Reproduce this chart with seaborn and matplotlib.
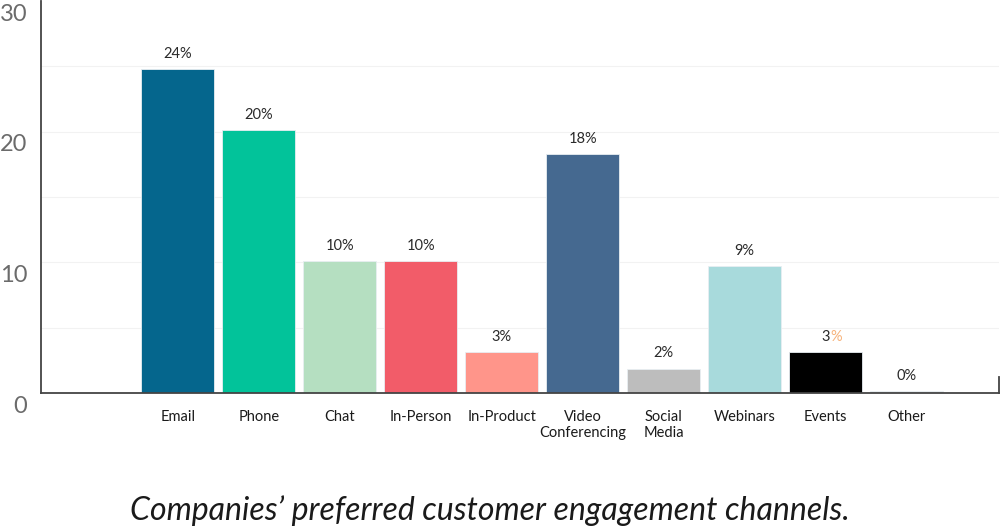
import pandas as pd
import seaborn as sns
import matplotlib.pyplot as plt
from matplotlib.transforms import ScaledTranslation

channels = ['Email', 'Phone', 'Chat', 'In-Person', 'In-Product', 'Video\nConferencing',
            'Social\nMedia', 'Webinars', 'Events', 'Other']
shares = [24.8, 20.1, 10.1, 10.1, 3.1, 18.3, 1.85, 9.7, 3.1, 0.15]
pct_labels = ['24%', '20%', '10%', '10%', '3%', '18%', '2%', '9%', '3', '0%']
colors = ['#05668d', '#02c39a', '#b5dfc1', '#f25c69', '#ff958a', '#456990',
          '#bdbdbd', '#a8dadc', '#000000', '#d9d9d9']
y_ticks = [0, 10, 20, 30]

df = pd.DataFrame({'channel': channels, 'share': shares})

sns.set_style('white')
plt.rcParams['font.family'] = ['Lato', 'DejaVu Sans']

fig = plt.figure(figsize=(10, 5.3), dpi=100)
ax = fig.add_axes([0.041, 0.2585, 0.958, 0.7396])

sns.barplot(data=df, x='channel', y='share', hue='channel', palette=colors,
            legend=False, width=0.9, saturation=1, edgecolor='#e8eef2',
            linewidth=0.6, ax=ax)

ax.set_xlim(-1.69, 10.14)
ax.set_ylim(0, 30)
ax.set_yticks(y_ticks)
for y in [5, 10, 15, 20, 25]:
    ax.axhline(y, color='#f2f2f2', lw=0.8, zorder=0)

ax.set_xlabel('')
ax.set_ylabel('')
ax.spines['top'].set_visible(False)
ax.spines['right'].set_bounds(0, 1.2)
for s in ['left', 'bottom', 'right']:
    ax.spines[s].set_color('#444444')
    ax.spines[s].set_linewidth(1.3)

ax.tick_params(axis='y', direction='in', length=9, width=1.3, color='#444444',
               labelsize=17, labelcolor='#6b6b6b', pad=10)
ax.tick_params(axis='x', length=0, labelsize=10.5, pad=12, labelcolor='#1a1a1a')
off = ScaledTranslation(0, -8 / 72, fig.dpi_scale_trans)
for lab in ax.get_yticklabels():
    lab.set_transform(lab.get_transform() + off)
    lab.set_clip_on(False)

for i, (v, t) in enumerate(zip(shares, pct_labels)):
    ax.annotate(t, (i, v), xytext=(0, 6), textcoords='offset points',
                ha='center', va='bottom', fontsize=10.5, color='#2a2a2a')
# the Events label has its percent sign in orange
ax.annotate('%', (8, shares[8]), xytext=(3.5, 6), textcoords='offset points',
            ha='left', va='bottom', fontsize=10.5, color='#f7b27a')

fig.text(0.49, 0.037, 'Companies\u2019 preferred customer engagement channels.',
         ha='center', va='center', fontsize=23, style='italic',
         color='#1a1a1a')

fig.savefig('out.png', dpi=100)
